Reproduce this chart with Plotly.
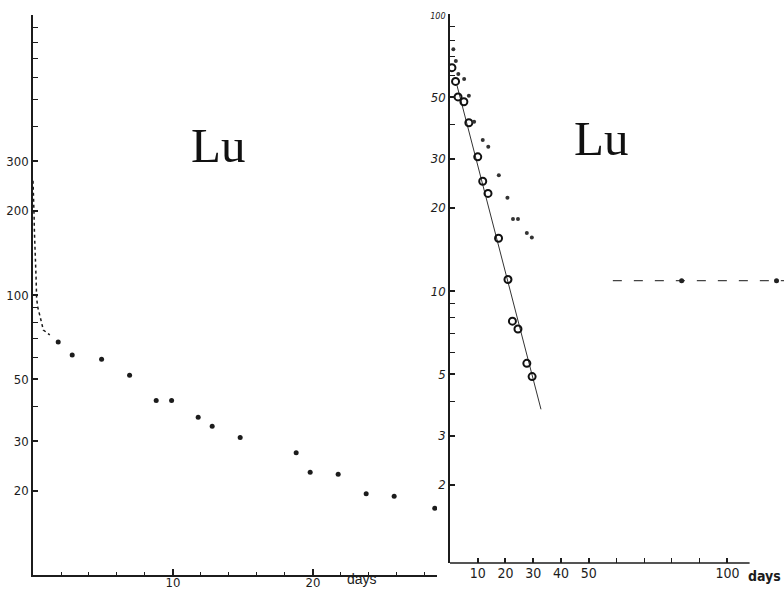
import plotly.graph_objects as go

# ---------------- data: left panel (Lu, whole-body retention) ----------------
left_early_days = [0.0, 0.05, 0.08, 0.1, 0.15, 0.2, 0.22, 0.26, 0.35, 0.5, 0.62, 0.74, 1.2]
left_early_vals = [256, 226, 190, 169, 149, 137, 115, 97, 90, 84, 79, 75, 72]
left_days = [1.8, 2.8, 4.9, 6.9, 8.8, 9.9, 11.8, 12.8, 14.8, 18.8, 19.8, 21.8, 23.8, 25.8, 28.7]
left_vals = [68, 61, 59, 51.7, 42, 42, 36.6, 34, 31, 27.3, 23.3, 22.9, 19.5, 19.1, 17.3]

# ---------------- data: right panel ----------------
dots_days = [1.2, 2.1, 3.0, 5.1, 6.8, 8.7, 11.8, 13.8, 17.6, 20.7, 22.7, 24.5, 27.7, 29.5]
dots_vals = [74.6, 67.7, 60.7, 58.3, 50.7, 40.8, 35.1, 33.2, 26.2, 21.7, 18.2, 18.2, 16.2, 15.6]
circ_days = [0.7, 2.0, 2.9, 5.0, 6.8, 10.0, 11.8, 13.7, 17.5, 20.9, 22.5, 24.5, 27.7, 29.6]
circ_vals = [64.0, 57.1, 50.2, 48.2, 40.5, 30.5, 24.9, 22.5, 15.5, 11.0, 7.78, 7.29, 5.48, 4.91]
fit_days = [2.5, 32.8]
fit_vals = [55.3, 3.74]
tail_days = [58.7, 120.4]
tail_vals = [10.9, 10.9]
tail_pt_days = [83.5, 117.7]
tail_pt_vals = [10.9, 10.9]

# ---------------- tick labels ----------------
left_x_major = [10, 20]
left_x_minor = [2, 4, 6, 8, 12, 14, 16, 18, 22, 24, 26, 28]
left_y_major = [20, 30, 50, 100, 200, 300]
left_y_minor = [40, 60, 70, 80, 90, 400, 500, 600, 700, 800, 900, 1000]
right_x_major = [10, 20, 30, 40, 50, 100]
right_x_minor = [60, 70, 80, 90]
right_y_major = [2, 3, 5, 10, 20, 30, 50, 100]
right_y_labels = ["2", "3", "5", "10", "20", "30", "50",
                  '<span style="font-size:9px">100</span>']
right_y_minor = [4, 6, 7, 8, 9, 40, 60, 70, 80, 90]

W, H = 784, 590
INK = "#1c1c1c"
NARROW = "Liberation Sans Narrow, DejaVu Sans Condensed, sans-serif"

def px(x):
    return x / W

def py(y):
    return 1 - y / H

fig = go.Figure()

# left panel
fig.add_trace(go.Scatter(x=left_early_days, y=left_early_vals, mode="lines",
                         line=dict(color=INK, width=1.5, dash="3px,3px"),
                         xaxis="x", yaxis="y", showlegend=False))
fig.add_trace(go.Scatter(x=left_days, y=left_vals, mode="markers",
                         marker=dict(color=INK, size=5),
                         xaxis="x", yaxis="y", showlegend=False))

# right panel
fig.add_trace(go.Scatter(x=fit_days, y=fit_vals, mode="lines",
                         line=dict(color="#333", width=1),
                         xaxis="x2", yaxis="y2", showlegend=False))
fig.add_trace(go.Scatter(x=circ_days, y=circ_vals, mode="markers",
                         marker=dict(symbol="circle-open", color="#111", size=7,
                                     line=dict(width=2)),
                         xaxis="x2", yaxis="y2", showlegend=False))
fig.add_trace(go.Scatter(x=dots_days, y=dots_vals, mode="markers",
                         marker=dict(color="#333", size=4),
                         xaxis="x2", yaxis="y2", showlegend=False))
fig.add_trace(go.Scatter(x=tail_days, y=tail_vals, mode="lines",
                         line=dict(color="#444", width=1.3, dash="9px,12px"),
                         xaxis="x2", yaxis="y2", showlegend=False))
fig.add_trace(go.Scatter(x=tail_pt_days, y=tail_pt_vals, mode="markers",
                         marker=dict(color="#222", size=5),
                         xaxis="x2", yaxis="y2", showlegend=False, cliponaxis=False))

common = dict(showgrid=False, zeroline=False, ticks="inside", tickcolor=INK,
              tickwidth=1.5, linecolor=INK, linewidth=1.6, automargin=False)

fig.update_layout(
    width=W, height=H,
    margin=dict(l=0, r=0, t=0, b=0),
    paper_bgcolor="white", plot_bgcolor="white",
    xaxis=dict(domain=[px(33), px(437)], range=[0, 28.86], anchor="y",
               tickmode="array", tickvals=left_x_major,
               ticktext=[str(v) for v in left_x_major], ticklen=6,
               ticklabelstandoff=-5,
               tickfont=dict(family=NARROW, size=13, color=INK),
               minor=dict(tickvals=left_x_minor, ticks="inside", ticklen=3,
                          tickcolor=INK, tickwidth=1.2),
               showline=True, **common),
    yaxis=dict(type="log", domain=[py(575), py(15)], range=[1, 3], anchor="x",
               tickmode="array", tickvals=left_y_major,
               ticktext=[str(v) for v in left_y_major], ticklen=5,
               tickfont=dict(family=NARROW, size=13, color=INK),
               minor=dict(tickvals=left_y_minor, ticks="inside", ticklen=5,
                          tickcolor=INK, tickwidth=1.2),
               showline=True, **common),
    xaxis2=dict(domain=[px(450), 1], range=[0, 120.4], anchor="y2",
                tickmode="array", tickvals=right_x_major,
                ticktext=[str(v) for v in right_x_major], ticklen=5,
                tickfont=dict(family=NARROW, size=14, color=INK),
                minor=dict(tickvals=right_x_minor, ticks="inside", ticklen=5,
                           tickcolor=INK, tickwidth=1.2),
                showline=False, **common),
    yaxis2=dict(type="log", domain=[py(563), py(14)], range=[0.018, 2.0], anchor="x2",
                tickmode="array", tickvals=right_y_major, ticktext=right_y_labels,
                ticklen=5,
                tickfont=dict(family=NARROW, size=13, color=INK, style="italic"),
                minor=dict(tickvals=right_y_minor, ticks="inside", ticklen=5,
                           tickcolor=INK, tickwidth=1.2),
                showline=True, **common),
)

# right x axis line (stops short of the panel edge)
fig.add_shape(type="line", xref="x2", yref="y2 domain", x0=0, x1=108, y0=0, y1=0,
              line=dict(color=INK, width=1.6))

serif = dict(family="Liberation Serif, DejaVu Serif, serif", size=49, color="#111")
fig.add_annotation(text="Lu", x=px(218), y=py(145), xref="paper", yref="paper",
                   showarrow=False, font=serif, xanchor="center", yanchor="middle")
fig.add_annotation(text="Lu", x=px(601), y=py(138), xref="paper", yref="paper",
                   showarrow=False, font=serif, xanchor="center", yanchor="middle")
fig.add_annotation(text="days", x=px(362), y=py(589), xref="paper", yref="paper",
                   showarrow=False, xanchor="center", yanchor="bottom",
                   font=dict(family="Liberation Sans, DejaVu Sans, sans-serif", size=14, color=INK))
fig.add_annotation(text="<b>days</b>", x=px(764), y=py(576), xref="paper", yref="paper",
                   showarrow=False, xanchor="center", yanchor="middle",
                   font=dict(family=NARROW, size=14, color=INK))

fig.write_html("out.html")
